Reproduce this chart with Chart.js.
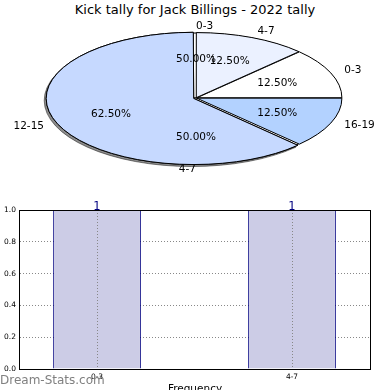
<!DOCTYPE html>
<html lang="en">
<head>
<meta charset="UTF-8">
<title>Kick tally for Jack Billings</title>
<style>
  body { margin: 0; width: 390px; height: 390px; overflow: hidden; background: #fff; position: relative; font-family: "DejaVu Sans", sans-serif; }
  canvas { position: absolute; left: 0; }
  #title { position: absolute; left: 0; top: 2px; width: 390px; text-align: center; font-size: 13px; line-height: 15px; }
  #mark { position: absolute; left: 0; top: 373px; font-size: 12px; line-height: 14px; color: #808080; }
</style>
</head>
<body>
<div id="title">Kick tally for Jack Billings - 2022 tally</div>
<canvas id="pieBack" width="390" height="190" style="top:0"></canvas>
<canvas id="pieFront" width="390" height="190" style="top:0"></canvas>
<canvas id="bars" width="390" height="220" style="top:190px"></canvas>
<div id="mark">Dream-Stats.com</div>

<script src="https://cdn.jsdelivr.net/npm/chart.js"></script>
<script>
// big pie: kicks by band
const pieCategories = ['0-3', '4-7', '12-15', '16-19'];
const pieCounts = [1, 1, 5, 1];
// second pie + bar chart: frequency
const freqCategories = ['0-3', '4-7'];
const freqCounts = [1, 1];
const yTicks = [0, 0.2, 0.4, 0.6, 0.8, 1.0];

const squash = 65 / 145;   // pie is drawn as an ellipse
const font = '"DejaVu Sans"';

// squash the pie into an ellipse, counter-clockwise like matplotlib
const ellipse = {
    id: 'ellipse',
    beforeDatasetsDraw(chart, args, opts) {
        const ctx = chart.ctx;
        const arcs = chart.getDatasetMeta(0).data;
        const dpr = chart.currentDevicePixelRatio;
        ctx.save();
        ctx.translate(arcs[0].x, arcs[0].y);
        ctx.scale(1, -squash);
        ctx.translate(-arcs[0].x, -arcs[0].y);
        // stroke in plain pixels so outline width stays even
        const stroke = CanvasRenderingContext2D.prototype.stroke;
        ctx.stroke = function () {
            this.save();
            this.setTransform(dpr, 0, 0, dpr, 0, 0);
            stroke.call(this);
            this.restore();
        };
        if (opts.shadow !== undefined) {
            ctx.save();
            ctx.shadowColor = 'rgba(0, 0, 0, 0.45)';
            ctx.shadowOffsetX = -2;
            ctx.shadowOffsetY = 2;
            arcs[opts.shadow].draw(ctx);
            ctx.restore();
        }
    },
    afterDatasetsDraw(chart) {
        delete chart.ctx.stroke;
        chart.ctx.restore();
    }
};

let backPie = null;

// labels of every pie go on top of all wedges
const pieLabels = {
    id: 'pieLabels',
    afterDraw(chart) {
        const ctx = chart.ctx;
        ctx.save();
        ctx.font = '10.5px ' + font;
        ctx.fillStyle = '#000';
        ctx.textBaseline = 'middle';
        [backPie, chart].forEach(pie => {
            const ds = pie.data.datasets[0];
            const total = ds.data.reduce((a, b) => a + b, 0);
            pie.getDatasetMeta(0).data.forEach((arc, i) => {
                const mid = (arc.startAngle + arc.endAngle) / 2;
                const fix = 1 - Math.sin(Math.min(Math.PI, arc.circumference));
                const shift = (arc.options.offset || 0) / 4 * (1 + fix);
                const at = k => [arc.x + Math.cos(mid) * (shift + k * arc.outerRadius),
                                 arc.y - Math.sin(mid) * (shift + k * arc.outerRadius) * squash];
                let [x, y] = at(1.1);
                ctx.textAlign = Math.cos(mid) > 0 ? 'left' : 'right';
                ctx.fillText(pie.data.labels[i], x, y);
                [x, y] = at(0.6);
                ctx.textAlign = 'center';
                ctx.fillText((ds.data[i] / total * 100).toFixed(2) + '%', x, y);
            });
        });
        ctx.restore();
    }
};

function pieConfig(labels, counts, colors, offsets, ellipseOpts, plugins) {
    return {
        type: 'pie',
        data: {
            labels: labels,
            datasets: [{
                data: counts,
                backgroundColor: colors,
                borderColor: '#000',
                borderWidth: 1,
                offset: offsets,
                clip: false
            }]
        },
        options: {
            responsive: false,
            animation: false,
            events: [],
            rotation: 90,
            radius: 145,
            layout: { padding: { left: 2, top: 6 } },
            plugins: {
                legend: { display: false },
                tooltip: { enabled: false },
                ellipse: ellipseOpts
            }
        },
        plugins: plugins
    };
}

backPie = new Chart(document.getElementById('pieBack'),
    pieConfig(freqCategories, freqCounts, ['#ffffff', '#ffffff'], [0, 0], {}, [ellipse]));

new Chart(document.getElementById('pieFront'),
    pieConfig(pieCategories, pieCounts, ['#ffffff', '#ebf1ff', '#c6d9ff', '#b3d2ff'],
        [3, 3, 10, 3], { shadow: 2 }, [ellipse, pieLabels]));

// bar chart: value on top of each bar and a box round the axes
const frame = {
    id: 'frame',
    afterDatasetsDraw(chart) {
        const ctx = chart.ctx;
        ctx.save();
        ctx.font = '11.5px ' + font;
        ctx.fillStyle = '#000080';
        ctx.textAlign = 'center';
        ctx.textBaseline = 'alphabetic';
        chart.getDatasetMeta(0).data.forEach((bar, i) => {
            ctx.fillText(String(freqCounts[i]), bar.x, bar.y);
        });
        ctx.restore();
    },
    afterDraw(chart) {
        const { ctx, chartArea: a } = chart;
        ctx.save();
        ctx.strokeStyle = '#000';
        ctx.lineWidth = 1;
        ctx.strokeRect(a.left - 0.5, a.top + 0.5, a.width + 1, a.height);
        ctx.restore();
    }
};

const tickFont = { family: 'DejaVu Sans', size: 7.5 };

new Chart(document.getElementById('bars'), {
    type: 'bar',
    data: {
        datasets: [{
            data: freqCategories.map((c, i) => ({ x: i, y: freqCounts[i] })),
            backgroundColor: '#ccccE6',
            borderColor: '#000080',
            borderWidth: 1,
            borderSkipped: 'bottom',
            categoryPercentage: 1,
            barPercentage: 0.45
        }]
    },
    options: {
        responsive: false,
        animation: false,
        events: [],
        layout: { padding: { top: 20, right: 20 } },
        plugins: { legend: { display: false }, tooltip: { enabled: false } },
        scales: {
            x: {
                type: 'linear',
                min: -0.395,
                max: 1.4,
                offset: false,
                afterBuildTicks: axis => { axis.ticks = freqCategories.map((c, i) => ({ value: i })); },
                afterFit: axis => { axis.height = 41; },
                ticks: { callback: v => freqCategories[v], font: tickFont, color: '#000', padding: 4, maxRotation: 0 },
                grid: { color: '#888', z: 1, drawTicks: false, offset: false },
                border: { display: false, dash: [1, 2] },
                title: { display: true, text: 'Frequency', font: { family: 'DejaVu Sans', size: 10.5 }, color: '#000', padding: { top: 0, bottom: 14 } }
            },
            y: {
                min: 0,
                max: 1,
                afterBuildTicks: axis => { axis.ticks = yTicks.map(v => ({ value: v })); },
                afterFit: axis => { axis.width = 20; },
                ticks: { callback: v => v.toFixed(1), font: tickFont, color: '#000', padding: 4 },
                grid: { color: '#888', drawTicks: false },
                border: { display: false, dash: [1, 2] }
            }
        }
    },
    plugins: [frame]
});
</script>
</body>
</html>
